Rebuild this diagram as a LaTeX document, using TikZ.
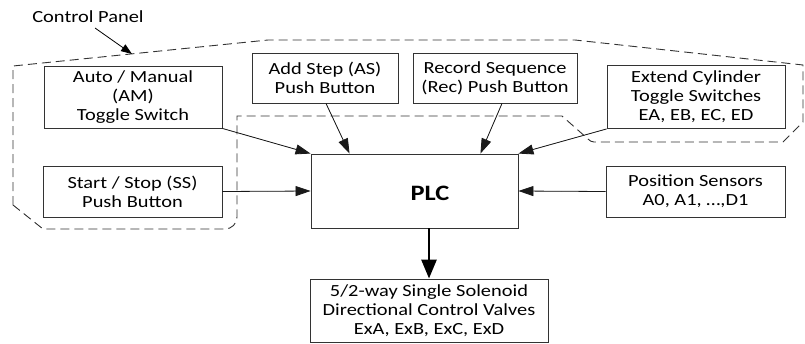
\documentclass[tikz,border=0pt]{standalone}
\usepackage{fontspec}
\setmainfont{Carlito}[FakeStretch=1.2]
\usetikzlibrary{arrows.meta}
\begin{document}
\begin{tikzpicture}[x=1pt,y=-1pt,
  box/.style={draw=black!80, line width=0.9pt, fill=white, align=center, inner sep=0pt,
    font=\fontsize{17}{19}\selectfont, text=black},
  arr/.style={-{Triangle[length=15pt,width=10pt]}, line width=0.8pt, draw=black!90, fill=black},
  bigarr/.style={-{Triangle[length=19pt,width=15pt]}, line width=2.8pt, draw=black},
  panel/.style={draw=black!80, dash pattern=on 9pt off 5pt, line width=0.9pt},
  lbl/.style={font=\fontsize{17}{19}\selectfont, text=black, inner sep=0pt}]
\useasboundingbox (0,0) rectangle (805,343);

% control panel outline
\draw[panel] (13,205) -- (13,66) -- (268,40) -- (575,40) -- (803,65) -- (803,122)
  -- (783,142) -- (594,142) to[out=180,in=-45] (588,139) -- (562,116) -- (237,116)
  -- (237,217) to[out=-90,in=0] (225,229) -- (43,229) -- cycle;

\node[lbl] (cp) at (88,17) {Control Panel};
\coordinate (cptip) at (132,54);
\draw[-{Triangle[length=11pt,width=8pt]}, line width=0.8pt] (95,28) -- (cptip);

% boxes
\node[box, minimum width=178pt, minimum height=62pt] (am) at (133,97) {Auto / Manual\\(AM)\\Toggle Switch};
\node[box, minimum width=179pt, minimum height=51pt] (ss) at (132.5,191.5) {Start / Stop (SS)\\Push Button};
\node[box, minimum width=146pt, minimum height=50pt] (as) at (325,78) {Add Step (AS)\\Push Button};
\node[box, minimum width=164pt, minimum height=50pt] (rec) at (495,78) {Record Sequence\\(Rec) Push Button};
\node[box, minimum width=178pt, minimum height=63pt] (ext) at (696,97) {Extend Cylinder\\Toggle Switches\\EA, EB, EC, ED};
\node[box, minimum width=179pt, minimum height=51pt] (pos) at (695.5,191.5) {Position Sensors\\A0, A1, \dots,D1};
\node[box, minimum width=207pt, minimum height=74pt] (plc) at (414.5,191) {};
\node[inner sep=0pt, font=\fontsize{22}{24}\selectfont\bfseries, text=black] (plctext) at (430,193) {PLC};
\node[box, minimum width=238pt, minimum height=63pt] (val) at (429,310.5) {5/2-way Single Solenoid\\Directional Control Valves\\ExA, ExB, ExC, ExD};

% connectors
\draw[arr] (am.south east) -- (plc.north west);
\draw[arr] (ss.east) -- (plc.west);
\draw[arr] ([xshift=1pt]as.south) -- ([xshift=39pt]plc.north west);
\draw[arr] ([xshift=7pt]rec.south) -- ([xshift=-38pt]plc.north east);
\draw[arr] (ext.south west) -- (plc.north east);
\draw[arr] (pos.west) -- (plc.east);
\draw[bigarr] (val.north |- plc.south) -- (val.north);
\end{tikzpicture}
\end{document}
